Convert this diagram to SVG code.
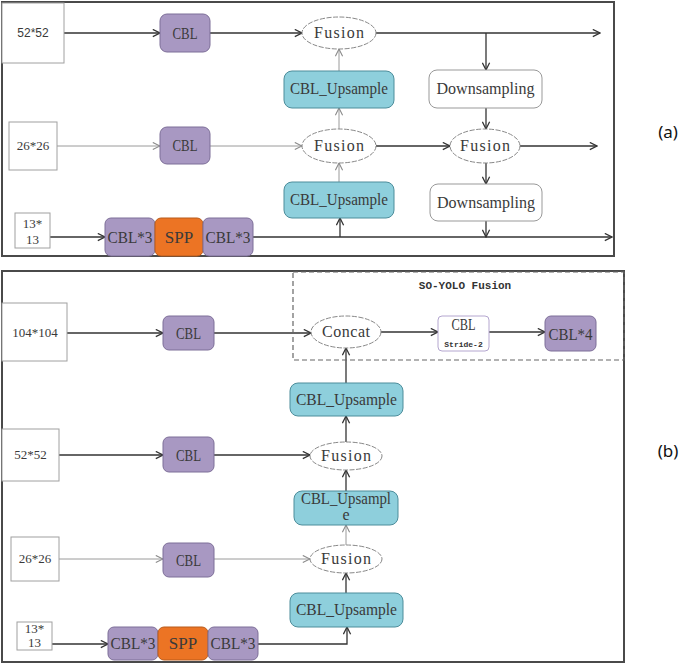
<svg xmlns="http://www.w3.org/2000/svg" width="685" height="665" viewBox="0 0 685 665">
<style>
.panel{fill:none;stroke:#4a4a4a;stroke-width:2}
.inp{fill:#fff;stroke:#a0a0a0;stroke-width:1}
.pur{fill:#a898c2;stroke:#7d6e98;stroke-width:1}
.org{fill:#ec7424;stroke:#b85a1a;stroke-width:1}
.cyan{fill:#8ecfdc;stroke:#4d8d9b;stroke-width:1}
.wbox{fill:#fff;stroke:#999;stroke-width:1}
.ell{fill:#fff;stroke:#888;stroke-width:1;stroke-dasharray:5 1.5}
.t{font-family:"Liberation Serif",serif;font-size:17px;fill:#3a3a3a;text-anchor:middle}
.m{font-family:"Liberation Serif",serif;font-size:16px;fill:#3a3a3a;text-anchor:middle}
.s{font-family:"Liberation Serif",serif;font-size:13px;fill:#3a3a3a;text-anchor:middle}
.sa{font-family:"Liberation Sans",sans-serif;font-size:12px;fill:#3a3a3a;text-anchor:middle}
.lab{font-family:"Noto Sans","Liberation Sans",sans-serif;font-size:17px;fill:#111;text-anchor:middle}
.dk{fill:none;stroke:#333;stroke-width:1.3}
.lt{fill:none;stroke:#9a9a9a;stroke-width:1}
</style>
<defs>
<marker id="ad" viewBox="0 0 10 10" refX="9" refY="5" markerWidth="9" markerHeight="9" orient="auto" markerUnits="userSpaceOnUse"><path d="M1,1 L9,5 L1,9" fill="none" stroke="#333" stroke-width="1.4"/></marker>
<marker id="al" viewBox="0 0 10 10" refX="9" refY="5" markerWidth="9" markerHeight="9" orient="auto" markerUnits="userSpaceOnUse"><path d="M1,1 L9,5 L1,9" fill="none" stroke="#8a8a8a" stroke-width="1.2"/></marker>
</defs>

<rect class="panel" x="2" y="2" width="612" height="254"/>
<text class="lab" x="668" y="138">(a)</text>
<rect class="panel" x="2" y="271" width="622" height="391"/>
<text class="lab" x="668" y="457">(b)</text>

<g id="connectors">
<line class="dk" x1="64" y1="33" x2="160" y2="33" marker-end="url(#ad)"/>
<line class="dk" x1="210" y1="33" x2="302" y2="33" marker-end="url(#ad)"/>
<line class="dk" x1="376" y1="33" x2="600" y2="33" marker-end="url(#ad)"/>
<line class="dk" x1="486" y1="33" x2="486" y2="70" marker-end="url(#ad)"/>
<line class="dk" x1="486" y1="108" x2="486" y2="129" marker-end="url(#ad)"/>
<line class="lt" x1="339" y1="129" x2="339" y2="108" marker-end="url(#al)"/>
<line class="lt" x1="339" y1="71" x2="339" y2="49" marker-end="url(#al)"/>
<line class="lt" x1="57" y1="146" x2="160" y2="146" marker-end="url(#al)"/>
<line class="lt" x1="210" y1="146" x2="302" y2="146" marker-end="url(#al)"/>
<line class="dk" x1="376" y1="146" x2="450" y2="146" marker-end="url(#ad)"/>
<line class="dk" x1="520" y1="146" x2="597" y2="146" marker-end="url(#ad)"/>
<line class="dk" x1="486" y1="163" x2="486" y2="184" marker-end="url(#ad)"/>
<line class="dk" x1="486" y1="221" x2="486" y2="237" marker-end="url(#ad)"/>
<line class="lt" x1="339" y1="182" x2="339" y2="163" marker-end="url(#al)"/>
<line class="dk" x1="50" y1="237" x2="105" y2="237" marker-end="url(#ad)"/>
<line class="dk" x1="253" y1="237" x2="612" y2="237" marker-end="url(#ad)"/>
<line class="dk" x1="340" y1="237" x2="340" y2="218" marker-end="url(#ad)"/>
<line class="dk" x1="67" y1="333" x2="163" y2="333" marker-end="url(#ad)"/>
<line class="dk" x1="214" y1="333" x2="311" y2="333" marker-end="url(#ad)"/>
<line class="dk" x1="381" y1="332" x2="438" y2="332" marker-end="url(#ad)"/>
<line class="dk" x1="489" y1="332" x2="545" y2="332" marker-end="url(#ad)"/>
<line class="dk" x1="346" y1="383" x2="346" y2="348" marker-end="url(#ad)"/>
<line class="dk" x1="346" y1="442" x2="346" y2="416" marker-end="url(#ad)"/>
<line class="dk" x1="346" y1="491" x2="346" y2="470" marker-end="url(#ad)"/>
<line class="dk" x1="59" y1="455" x2="163" y2="455" marker-end="url(#ad)"/>
<line class="dk" x1="214" y1="455" x2="310" y2="455" marker-end="url(#ad)"/>
<line class="lt" x1="59" y1="559" x2="163" y2="559" marker-end="url(#al)"/>
<line class="lt" x1="214" y1="559" x2="310" y2="559" marker-end="url(#al)"/>
<line class="lt" x1="346" y1="545" x2="346" y2="525" marker-end="url(#al)"/>
<line class="dk" x1="346" y1="593" x2="346" y2="573" marker-end="url(#ad)"/>
<line class="dk" x1="52" y1="644" x2="108" y2="644" marker-end="url(#ad)"/>
<polyline class="dk" points="258,644 347,644 347,627" marker-end="url(#ad)"/>
</g>

<g id="a_in52"><rect class="inp" x="2" y="3" width="62" height="60"/><text class="sa" x="33" y="37">52*52</text></g>
<g id="a_cbl1"><rect class="pur" x="160" y="14" width="50" height="38" rx="7"/><text class="t" x="185" y="39" textLength="25" lengthAdjust="spacingAndGlyphs">CBL</text></g>
<g id="a_fusion1"><ellipse class="ell" cx="339" cy="33" rx="37" ry="16"/><text class="m" x="339" y="38" textLength="50" lengthAdjust="spacing">Fusion</text></g>
<g id="a_up1"><rect class="cyan" x="284" y="71" width="110" height="37" rx="8"/><text class="m" x="339" y="94" textLength="98" lengthAdjust="spacingAndGlyphs">CBL_Upsample</text></g>
<g id="a_down1"><rect class="wbox" x="429" y="70" width="113" height="38" rx="8"/><text class="m" x="485.5" y="94" textLength="98" lengthAdjust="spacingAndGlyphs">Downsampling</text></g>
<g id="a_in26"><rect class="inp" x="9" y="122" width="48" height="48"/><text class="s" x="33" y="150">26*26</text></g>
<g id="a_cbl2"><rect class="pur" x="160" y="127" width="50" height="37" rx="7"/><text class="t" x="185" y="151" textLength="25" lengthAdjust="spacingAndGlyphs">CBL</text></g>
<g id="a_fusion2"><ellipse class="ell" cx="339" cy="146" rx="37" ry="17"/><text class="m" x="339" y="151" textLength="50" lengthAdjust="spacing">Fusion</text></g>
<g id="a_fusion3"><ellipse class="ell" cx="485" cy="146" rx="35" ry="17"/><text class="m" x="485" y="151" textLength="50" lengthAdjust="spacing">Fusion</text></g>
<g id="a_up2"><rect class="cyan" x="284" y="182" width="110" height="36" rx="8"/><text class="m" x="339" y="205" textLength="98" lengthAdjust="spacingAndGlyphs">CBL_Upsample</text></g>
<g id="a_down2"><rect class="wbox" x="430" y="184" width="112" height="37" rx="8"/><text class="m" x="486" y="208" textLength="98" lengthAdjust="spacingAndGlyphs">Downsampling</text></g>
<g id="a_in13"><rect class="inp" x="15" y="213" width="35" height="35"/><text class="s" x="32.5" y="228">13*</text><text class="s" x="32.5" y="244">13</text></g>
<g id="a_cbl3a"><rect class="pur" x="105" y="218" width="50" height="38" rx="6"/><text class="t" x="130" y="243" textLength="45" lengthAdjust="spacingAndGlyphs">CBL*3</text></g>
<g id="a_spp"><rect class="org" x="155" y="218" width="48" height="38" rx="6"/><text class="t" x="179" y="243">SPP</text></g>
<g id="a_cbl3b"><rect class="pur" x="203" y="218" width="50" height="38" rx="6"/><text class="t" x="228" y="243" textLength="45" lengthAdjust="spacingAndGlyphs">CBL*3</text></g>

<g id="b_soyolo"><rect x="293" y="272" width="331" height="88" fill="none" stroke="#666" stroke-width="1.2" stroke-dasharray="5 3"/><text x="465" y="289" font-family="Liberation Mono,monospace" font-size="11" font-weight="bold" fill="#333" text-anchor="middle">SO-YOLO Fusion</text></g>
<g id="b_in104"><rect class="inp" x="2" y="303" width="65" height="58"/><text class="s" x="35" y="337">104*104</text></g>
<g id="b_cbl104"><rect class="pur" x="163" y="316" width="51" height="34" rx="6"/><text class="t" x="188.5" y="339" textLength="25" lengthAdjust="spacingAndGlyphs">CBL</text></g>
<g id="b_concat"><ellipse class="ell" cx="346" cy="332" rx="35" ry="16"/><text class="m" x="346" y="337" textLength="48" lengthAdjust="spacing">Concat</text></g>
<g id="b_cblstride"><rect x="438" y="316" width="51" height="35" rx="4" fill="#fff" stroke="#b4a6cf" stroke-width="1"/><text class="m" x="463.5" y="330" textLength="24" lengthAdjust="spacingAndGlyphs">CBL</text><text x="463.5" y="347" font-family="Liberation Mono,monospace" font-size="8" font-weight="bold" fill="#333" text-anchor="middle">Stride-2</text></g>
<g id="b_cbl4"><rect class="pur" x="545" y="316" width="51" height="35" rx="6"/><text class="t" x="570.5" y="340" textLength="44" lengthAdjust="spacingAndGlyphs">CBL*4</text></g>
<g id="b_up1"><rect class="cyan" x="290" y="383" width="113" height="33" rx="8"/><text class="m" x="346.5" y="405" textLength="101" lengthAdjust="spacingAndGlyphs">CBL_Upsample</text></g>
<g id="b_in52"><rect class="inp" x="2" y="429" width="57" height="52"/><text class="s" x="30.5" y="459">52*52</text></g>
<g id="b_cbl52"><rect class="pur" x="163" y="437" width="51" height="35" rx="6"/><text class="t" x="188.5" y="461" textLength="25" lengthAdjust="spacingAndGlyphs">CBL</text></g>
<g id="b_fusion1"><ellipse class="ell" cx="346" cy="456" rx="36" ry="14"/><text class="m" x="346" y="461" textLength="50" lengthAdjust="spacing">Fusion</text></g>
<g id="b_up2"><rect class="cyan" x="294" y="491" width="104" height="34" rx="8"/><text class="m" x="346" y="504" textLength="90" lengthAdjust="spacingAndGlyphs">CBL_Upsampl</text><text class="m" x="346" y="520">e</text></g>
<g id="b_in26"><rect class="inp" x="11" y="537" width="48" height="44"/><text class="s" x="35" y="563">26*26</text></g>
<g id="b_cbl26"><rect class="pur" x="163" y="543" width="51" height="34" rx="6"/><text class="t" x="188.5" y="566" textLength="25" lengthAdjust="spacingAndGlyphs">CBL</text></g>
<g id="b_fusion2"><ellipse class="ell" cx="346" cy="559" rx="36" ry="14"/><text class="m" x="346" y="564" textLength="50" lengthAdjust="spacing">Fusion</text></g>
<g id="b_up3"><rect class="cyan" x="290" y="593" width="113" height="34" rx="8"/><text class="m" x="346.5" y="615" textLength="101" lengthAdjust="spacingAndGlyphs">CBL_Upsample</text></g>
<g id="b_in13"><rect class="inp" x="17" y="622" width="35" height="28"/><text class="s" x="34.5" y="633">13*</text><text class="s" x="34.5" y="647">13</text></g>
<g id="b_cbl3a"><rect class="pur" x="108" y="627" width="50" height="33" rx="6"/><text class="t" x="133" y="649" textLength="45" lengthAdjust="spacingAndGlyphs">CBL*3</text></g>
<g id="b_spp"><rect class="org" x="158" y="627" width="50" height="33" rx="6"/><text class="t" x="183" y="649">SPP</text></g>
<g id="b_cbl3b"><rect class="pur" x="208" y="627" width="50" height="33" rx="6"/><text class="t" x="233" y="649" textLength="45" lengthAdjust="spacingAndGlyphs">CBL*3</text></g>
</svg>
